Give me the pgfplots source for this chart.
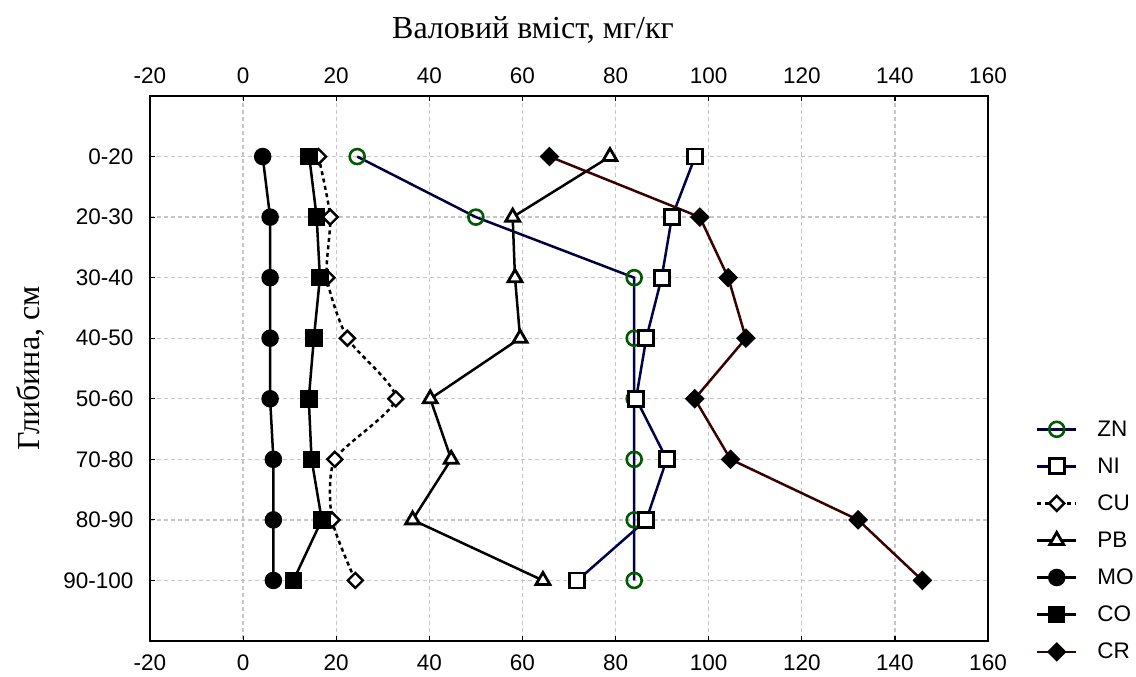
\documentclass[border=0pt]{standalone}
\usepackage{fontspec}
\setmainfont{Liberation Serif}
\setsansfont{Liberation Sans}
\usepackage{pgfplots}
\pgfplotsset{compat=1.18}
\definecolor{znline}{HTML}{000040}
\definecolor{zngreen}{HTML}{005A00}
\definecolor{niline}{HTML}{000048}
\definecolor{crline}{HTML}{3A0000}
\pgfplotsset{
  lgd/.style={legend image code/.code={
    \draw[##1] (0bp,0bp) -- (39bp,0bp);
    \draw[##1,solid] plot coordinates {(19.5bp,0bp)};
    \path (57bp,0bp);
  }},
  ser/.style={line width=2.5bp},
}
\begin{document}
\begin{tikzpicture}[x=1bp,y=1bp]
\begin{axis}[
  at={(150bp,36bp)}, anchor=south west,
  scale only axis, width=838bp, height=545bp,
  xmin=-20, xmax=160, ymin=-1, ymax=8, y dir=reverse,
  xtick={-20,0,...,160},
  ytick={0,...,7},
  yticklabels={0-20,20-30,30-40,40-50,50-60,70-80,80-90,90-100},
  xtick pos=both, xticklabel pos=lower, ytick pos=left,
  tick align=inside, major tick length=5bp,
  tick style={black, line width=1.2bp},
  axis line style={line width=1.8bp},
  grid=major, major grid style={gray!45, dashed, line width=1.3bp, dash pattern=on 4bp off 3bp},
  tick label style={font=\sffamily\fontsize{22.5bp}{27bp}\selectfont},
  /pgf/number format/assume math mode=true,
  xticklabel style={yshift=-10bp},
  yticklabel style={xshift=-13bp},
  ylabel={\fontsize{32bp}{38bp}\selectfont Глибина, см},
  ylabel style={at={(axis description cs:-0.143,0.5)}, anchor=center},
  legend style={draw=none, fill=none, at={(1.057,0.408)}, anchor=north west,
    font=\sffamily\fontsize{22.5bp}{27bp}\selectfont, row sep=16bp,
    inner sep=0pt, cells={anchor=west}, legend cell align=left},
  lgd,
]
\addplot[ser, znline, mark=o, mark size=7.5bp, mark options={zngreen, fill=white, line width=2.6bp}]
 coordinates {(24.5,0) (50,1) (84,2) (84,3) (84,4) (84,5) (84,6) (84,7)};
\addlegendentry{ZN}
\addplot[ser, niline, mark=square*, mark size=7.5bp, mark options={black, fill=white, line width=2.8bp}]
 coordinates {(97.1,0) (92.1,1) (89.9,2) (86.6,3) (84.4,4) (91,5) (86.6,6) (71.8,7)};
\addlegendentry{NI}
\addplot[ser, black, dash pattern=on 4bp off 3.5bp, smooth, tension=0.4, mark=square*, mark size=5.3bp, mark options={solid, rotate=45, fill=white, line width=2.4bp}]
 coordinates {(16.2,0) (18.7,1) (18,2) (22.4,3) (32.8,4) (19.7,5) (19.1,6) (24.1,7)};
\addlegendentry{CU}
\addplot[ser, black, mark=triangle*, mark size=8bp, mark options={fill=white, line width=2.8bp}]
 coordinates {(78.8,0) (57.9,1) (58.4,2) (59.5,3) (40.2,4) (44.7,5) (36.4,6) (64.4,7)};
\addlegendentry{PB}
\addplot[ser, black, mark=*, mark size=7.5bp]
 coordinates {(4.2,0) (5.8,1) (5.8,2) (5.8,3) (5.8,4) (6.5,5) (6.5,6) (6.5,7)};
\addlegendentry{MO}
\addplot[ser, black, mark=square*, mark size=7.5bp]
 coordinates {(14.2,0) (15.8,1) (16.5,2) (15.2,3) (14.1,4) (14.7,5) (16.9,6) (10.8,7)};
\addlegendentry{CO}
\addplot[ser, crline, mark=square*, mark size=5.7bp, mark options={black, rotate=45}]
 coordinates {(65.8,0) (98.1,1) (104.2,2) (108,3) (97,4) (104.7,5) (132.1,6) (145.9,7)};
\addlegendentry{CR}
\end{axis}
\begin{axis}[
  at={(150bp,36bp)}, anchor=south west,
  scale only axis, width=838bp, height=545bp,
  xmin=-20, xmax=160, ymin=-1, ymax=8,
  xtick={-20,0,...,160},
  xtick pos=upper, xticklabel pos=upper,
  major tick length=0pt,
  ytick=\empty, axis line style={draw=none},
  tick label style={font=\sffamily\fontsize{22.5bp}{27bp}\selectfont},
  /pgf/number format/assume math mode=true,
  xticklabel style={yshift=9bp},
  xlabel={\fontsize{32bp}{38bp}\selectfont Валовий вміст, мг/кг},
  xlabel style={at={(axis description cs:0.457,1.0)}, anchor=south, yshift=49bp},
]
\end{axis}
\pgfresetboundingbox
\path[use as bounding box] (0,0) rectangle (1136,677);
\end{tikzpicture}
\end{document}
